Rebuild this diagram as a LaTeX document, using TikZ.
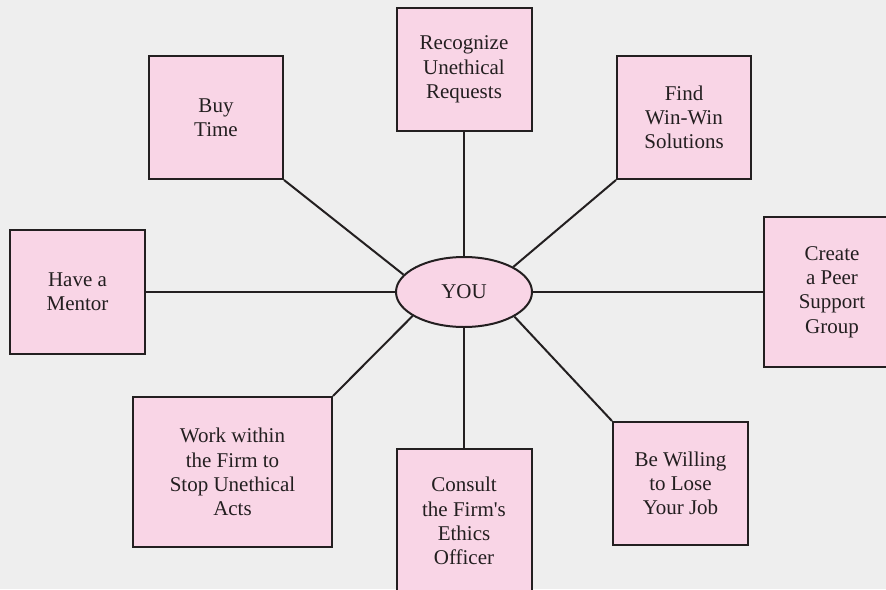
\documentclass[tikz,border=0pt]{standalone}
\usepackage{fontspec}
\setmainfont{Liberation Serif}[Ligatures=TeXOff]
\usetikzlibrary{shapes.geometric}
\definecolor{bgc}{HTML}{EEEEEE}
\definecolor{boxc}{HTML}{F9D5E6}
\definecolor{inkc}{HTML}{231F20}
\begin{document}
\begin{tikzpicture}[x=1pt,y=-1pt,
  tbox/.style={draw=inkc, line width=2pt, fill=boxc, rectangle, inner sep=0pt,
    align=center, text=inkc, font=\fontsize{21}{24.3}\selectfont},
  conn/.style={draw=inkc, line width=2pt}]
\fill[bgc] (0,0) rectangle (886,589);
\useasboundingbox (0,0) rectangle (886,589);
\begin{scope}
\clip (0,0) rectangle (886,589);
\node[tbox, minimum width=135pt, minimum height=123pt] (rec) at (464,69.5) {Recognize\\Unethical\\Requests};
\node[tbox, minimum width=134pt, minimum height=123pt] (buy) at (216,117.5) {Buy\\Time};
\node[tbox, minimum width=134pt, minimum height=123pt] (find) at (684,117.5) {Find\\Win-Win\\Solutions};
\node[tbox, minimum width=135pt, minimum height=124pt] (ment) at (77.5,292) {Have a\\Mentor};
\node[tbox, minimum width=136pt, minimum height=150pt] (peer) at (832,292) {Create\\a Peer\\Support\\Group};
\node[tbox, minimum width=199pt, minimum height=150pt] (work) at (232.5,472) {Work within\\the Firm to\\Stop Unethical\\Acts};
\node[tbox, minimum width=135pt, minimum height=144pt] (cons) at (464,521) {Consult\\the Firm's\\Ethics\\Officer};
\node[tbox, minimum width=135pt, minimum height=123pt] (will) at (680.5,483.5) {Be Willing\\to Lose\\Your Job};
\node[tbox, ellipse, minimum width=136pt, minimum height=70pt] (you) at (464,292) {YOU};
\draw[conn] (rec.south) -- (you.north);
\draw[conn] (buy.south east) -- (you.164);
\draw[conn] (find.south west) -- (you.27);
\draw[conn] (ment.east) -- (you.west);
\draw[conn] (you.east) -- (peer.west);
\draw[conn] (work.north east) -- (you.205);
\draw[conn] (cons.north) -- (you.south);
\draw[conn] (will.north west) -- (you.334);
\end{scope}
\end{tikzpicture}
\end{document}
